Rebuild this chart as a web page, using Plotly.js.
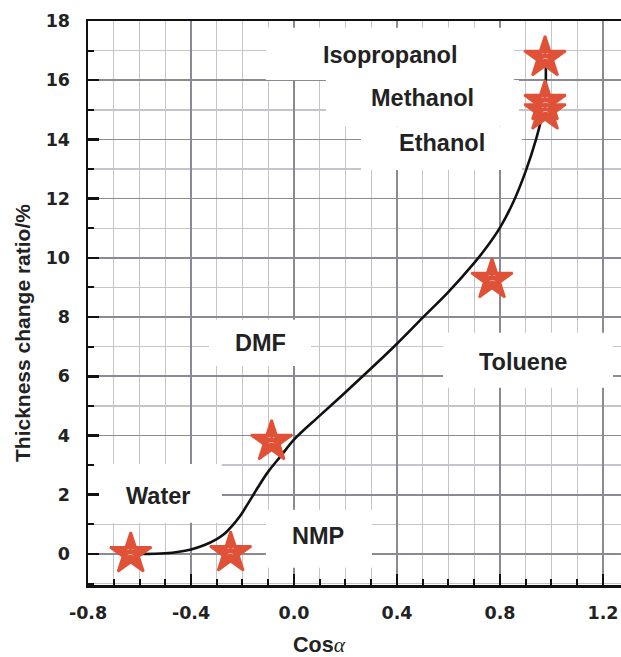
<!DOCTYPE html>
<html>
<head>
<meta charset="utf-8">
<script src="https://cdn.plot.ly/plotly-3.0.1.min.js"></script>
<style>
  html, body { margin: 0; padding: 0; background: #fff; }
  #chart { width: 621px; height: 657px; }
</style>
</head>
<body>
<div id="chart"></div>
<script>
// ---- data ----
const solvents = ["Water", "NMP", "DMF", "Toluene", "Ethanol", "Methanol", "Isopropanol"];
const cosAlpha = [-0.634, -0.246, -0.087, 0.769, 0.975, 0.975, 0.975];
const thicknessRatio = [0.0, 0.03, 3.79, 9.26, 14.95, 15.27, 16.76];

const fitX = [-0.634, -0.5, -0.4, -0.35, -0.3, -0.27, -0.24, -0.21, -0.18, -0.14, -0.1, -0.05, 0.0, 0.1, 0.2, 0.3, 0.4, 0.5, 0.6, 0.7, 0.75, 0.8, 0.85, 0.9, 0.94, 0.965, 0.975, 0.978];
const fitY = [0.0, 0.02, 0.15, 0.29, 0.5, 0.68, 0.95, 1.27, 1.68, 2.25, 2.78, 3.32, 3.86, 4.67, 5.46, 6.27, 7.1, 7.98, 8.85, 9.83, 10.38, 11.02, 11.85, 12.93, 14.0, 14.85, 15.28, 16.7];

const xTickVals = [-0.8, -0.4, 0.0, 0.4, 0.8, 1.2];
const xTickText = ["-0.8", "-0.4", "0.0", "0.4", "0.8", "1.2"];
const yTickVals = [0, 2, 4, 6, 8, 10, 12, 14, 16, 18];
const yTickText = ["0", "2", "4", "6", "8", "10", "12", "14", "16", "18"];

const labelNames = ["Isopropanol", "Methanol", "Ethanol", "DMF", "Toluene", "Water", "NMP"];

// ---- styles ----
const tickFont = { family: "DejaVu Sans, Verdana, sans-serif", size: 17.5, color: "#222", weight: 700 };
const labelFont = { family: "Liberation Sans, Arial, sans-serif", size: 23.5, color: "#222", weight: 700 };
const starColor = "#df5238";

const traces = [
  {
    x: fitX, y: fitY, type: "scatter", mode: "lines",
    line: { color: "#111", width: 2.6, shape: "spline", smoothing: 1 },
    hoverinfo: "skip", showlegend: false
  },
  {
    x: cosAlpha, y: thicknessRatio, type: "scatter", mode: "markers",
    text: solvents,
    marker: { symbol: "star", size: 31, color: starColor, line: { color: starColor, width: 2.5 } },
    showlegend: false
  },
  {
    x: cosAlpha, y: thicknessRatio, type: "scatter", mode: "text",
    text: cosAlpha.map(() => "- -<br>⌒"),
    textposition: "middle center",
    textfont: { family: "DejaVu Sans", size: 6.5, color: "rgba(255,255,255,0.85)" },
    hoverinfo: "skip", showlegend: false
  }
];

// white boxes behind the labels (layout decoration)
const boxes = [
  [-0.109, 0.854, 16.01, 17.77],
  [0.124, 0.874, 14.43, 16.01],
  [0.260, 0.885, 12.97, 14.43],
  [-0.330, 0.066, 6.35, 7.91],
  [0.579, 1.239, 5.61, 7.47],
  [-0.781, -0.280, 1.05, 3.04],
  [-0.109, 0.303, -0.47, 1.49]
];
const labelPos = [
  [0.372, 16.86], [0.501, 15.39], [0.573, 13.87], [-0.132, 7.11],
  [0.891, 6.49], [-0.528, 1.94], [0.093, 0.59]
];

const shapes = boxes.map(b => ({
  type: "rect", xref: "x", yref: "y",
  x0: b[0], x1: b[1], y0: b[2], y1: b[3],
  fillcolor: "#ffffff", line: { width: 0 }, layer: "between"
}));

const annotations = labelNames.map((t, i) => ({
  x: labelPos[i][0], y: labelPos[i][1], xref: "x", yref: "y",
  text: "<b>" + t + "</b>", showarrow: false,
  xanchor: "center", yanchor: "middle",
  font: labelFont
}));

annotations.push({
  xref: "paper", yref: "paper", x: (319 - 88) / 533, y: -(645 - 585) / 564,
  text: "<b>Cos</b><span style=\"font-family:'Liberation Serif';font-style:italic;font-weight:normal\">α</span>",
  showarrow: false, xanchor: "center", yanchor: "middle",
  font: { family: "Liberation Sans, Arial, sans-serif", size: 21.5, color: "#222", weight: 700 }
});
annotations.push({
  xref: "paper", yref: "paper", x: -(88 - 22) / 533, y: (585 - 333) / 564,
  text: "<b>Thickness change ratio/%</b>", textangle: -90,
  showarrow: false, xanchor: "center", yanchor: "middle",
  font: { family: "Liberation Sans, Arial, sans-serif", size: 21, color: "#222" }
});

const majorGrid = "#8a8a95";
const minorGrid = "#c4c4cd";

const layout = {
  width: 621, height: 657,
  margin: { l: 88, r: 0, t: 21, b: 72, pad: 0 },
  paper_bgcolor: "#fff", plot_bgcolor: "#fff",
  showlegend: false,
  xaxis: {
    range: [-0.8, 1.27],
    tickmode: "array", tickvals: xTickVals, ticktext: xTickText,
    ticks: "inside", ticklen: 11, tickwidth: 2.5, tickcolor: "#111",
    showline: true, linecolor: "#111", linewidth: 2.5, mirror: true,
    showgrid: true, gridcolor: majorGrid, gridwidth: 1.6,
    zeroline: false,
    tickfont: tickFont, ticklabelstandoff: 10,
    minor: { tick0: -0.8, dtick: 0.1, ticks: "inside", ticklen: 6, tickwidth: 2, tickcolor: "#111",
             showgrid: true, gridcolor: minorGrid, gridwidth: 1.4 }
  },
  yaxis: {
    range: [-1.05, 18],
    tickmode: "array", tickvals: yTickVals, ticktext: yTickText,
    ticks: "inside", ticklen: 11, tickwidth: 2.5, tickcolor: "#111",
    showline: true, linecolor: "#111", linewidth: 2.5, mirror: false,
    showgrid: true, gridcolor: majorGrid, gridwidth: 1.6,
    zeroline: false,
    tickfont: tickFont, ticklabelstandoff: 12,
    minor: { tick0: 0, dtick: 1, ticks: "inside", ticklen: 6, tickwidth: 2, tickcolor: "#111",
             showgrid: true, gridcolor: minorGrid, gridwidth: 1.4 }
  },
  shapes: shapes,
  annotations: annotations
};

Plotly.newPlot("chart", traces, layout, { displayModeBar: false, staticPlot: true });
</script>
</body>
</html>
